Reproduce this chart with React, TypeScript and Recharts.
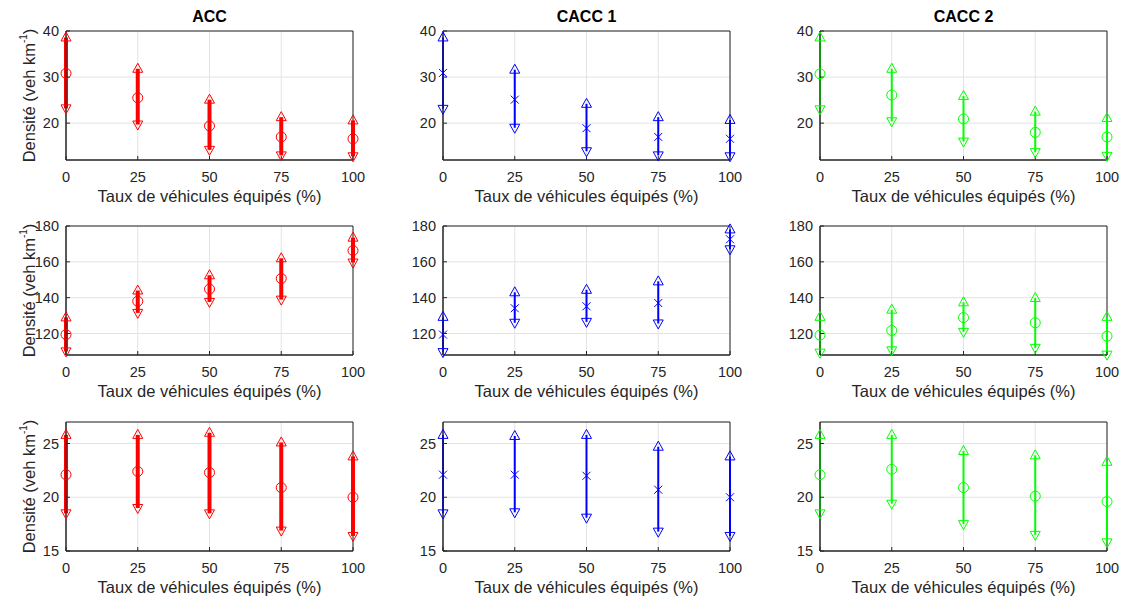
import React from 'react'
import {
  ScatterChart,
  Scatter,
  XAxis,
  YAxis,
  CartesianGrid,
  ErrorBar,
  Label,
  ReferenceArea
} from 'recharts'

// Taux de véhicules équipés (%)
const taux = [0, 25, 50, 75, 100]
const titres = ['ACC', 'CACC 1', 'CACC 2']

// ligne 1
const r1AccMax = [38.6, 31.8, 25.1, 21.3, 20.6]
const r1AccMoy = [30.8, 25.5, 19.4, 17.0, 16.6]
const r1AccMin = [23.2, 19.7, 14.2, 13.0, 12.8]
const r1Cacc1Max = [38.6, 31.6, 24.2, 21.3, 20.7]
const r1Cacc1Moy = [30.9, 25.1, 18.9, 17.0, 16.6]
const r1Cacc1Min = [23.1, 19.0, 13.9, 13.0, 12.8]
const r1Cacc2Max = [38.6, 31.8, 25.9, 22.5, 21.1]
const r1Cacc2Moy = [30.7, 26.1, 20.9, 18.0, 17.0]
const r1Cacc2Min = [23.0, 20.4, 16.0, 13.7, 12.9]

// ligne 2
const r2AccMax = [129.0, 144.0, 152.5, 162.0, 173.5]
const r2AccMoy = [119.4, 138.0, 144.8, 150.7, 166.3]
const r2AccMin = [110.0, 131.5, 137.6, 138.9, 159.6]
const r2Cacc1Max = [129.3, 143.0, 144.4, 149.1, 178.1]
const r2Cacc1Moy = [119.4, 134.1, 135.2, 137.0, 172.6]
const r2Cacc1Min = [109.6, 126.0, 126.5, 125.6, 167.0]
const r2Cacc2Max = [129.3, 133.3, 137.4, 139.8, 129.3]
const r2Cacc2Moy = [119.1, 121.7, 128.9, 126.0, 118.5]
const r2Cacc2Min = [109.3, 110.6, 120.9, 112.0, 108.2]

// ligne 3
const r3AccMax = [25.8, 25.8, 26.0, 25.1, 23.8]
const r3AccMoy = [22.1, 22.4, 22.3, 20.9, 20.0]
const r3AccMin = [18.5, 19.0, 18.5, 16.9, 16.4]
const r3Cacc1Max = [25.8, 25.7, 25.8, 24.7, 23.8]
const r3Cacc1Moy = [22.1, 22.1, 22.0, 20.7, 20.0]
const r3Cacc1Min = [18.5, 18.6, 18.1, 16.8, 16.4]
const r3Cacc2Max = [25.8, 25.8, 24.3, 23.9, 23.3]
const r3Cacc2Moy = [22.1, 22.6, 20.9, 20.1, 19.6]
const r3Cacc2Min = [18.5, 19.4, 17.5, 16.5, 15.8]

const yDomains = [[12, 40], [108, 180], [15, 27]]
const yTicks = [[20, 30, 40], [120, 140, 160, 180], [15, 20, 25]]

const series = [
  [[r1AccMax, r1AccMoy, r1AccMin], [r1Cacc1Max, r1Cacc1Moy, r1Cacc1Min], [r1Cacc2Max, r1Cacc2Moy, r1Cacc2Min]],
  [[r2AccMax, r2AccMoy, r2AccMin], [r2Cacc1Max, r2Cacc1Moy, r2Cacc1Min], [r2Cacc2Max, r2Cacc2Moy, r2Cacc2Min]],
  [[r3AccMax, r3AccMoy, r3AccMin], [r3Cacc1Max, r3Cacc1Moy, r3Cacc1Min], [r3Cacc2Max, r3Cacc2Moy, r3Cacc2Min]]
]

const colors = ['#ff0000', '#0000ff', '#00ff00']
const lineWidths = [4, 2, 2]
const plotLefts = [66, 443, 820]
const plotTops = [31, 226, 422]
const plotW = 287
const plotH = 129
const axisW = 60
const marginTop = 30
const marginRight = 20
const xAxisH = 45

const font = '"Liberation Sans", Arial, Helvetica, sans-serif'
const axisColor = '#262626'

const upTri = (color: string) => (p: any) => (
  <path
    d={`M${p.cx},${p.cy - 5.5}L${p.cx + 5},${p.cy + 3.5}L${p.cx - 5},${p.cy + 3.5}Z`}
    fill='none'
    stroke={color}
    strokeWidth={1}
  />
)

const downTri = (color: string) => (p: any) => (
  <path
    d={`M${p.cx},${p.cy + 5.5}L${p.cx + 5},${p.cy - 3.5}L${p.cx - 5},${p.cy - 3.5}Z`}
    fill='none'
    stroke={color}
    strokeWidth={1}
  />
)

const circle = (color: string) => (p: any) => (
  <circle cx={p.cx} cy={p.cy} r={5} fill='none' stroke={color} strokeWidth={1} />
)

const cross = (color: string) => (p: any) => (
  <path
    d={`M${p.cx - 4},${p.cy - 4}L${p.cx + 4},${p.cy + 4}M${p.cx - 4},${p.cy + 4}L${p.cx + 4},${p.cy - 4}`}
    stroke={color}
    strokeWidth={1}
  />
)

const YLabel = (props: any) => {
  const vb = props.viewBox
  const x = vb.x + 23
  const y = vb.y + vb.height / 2
  return (
    <text
      x={x}
      y={y}
      transform={`rotate(-90, ${x}, ${y})`}
      textAnchor='middle'
      dominantBaseline='central'
      fill={axisColor}
      fontSize={16.5}
      fontFamily={font}
    >
      <tspan>Densité (veh km</tspan>
      <tspan baselineShift='super' fontSize={10}>-1</tspan>
      <tspan>)</tspan>
    </text>
  )
}

const XLabel = (props: any) => {
  const vb = props.viewBox
  return (
    <text
      x={vb.x + vb.width / 2}
      y={vb.y + 42}
      textAnchor='middle'
      fill={axisColor}
      fontSize={16.5}
      fontFamily={font}
    >
      Taux de véhicules équipés (%)
    </text>
  )
}

const Title = (props: any) => {
  const vb = props.viewBox
  return (
    <text
      x={vb.x + vb.width / 2}
      y={vb.y - 9}
      textAnchor='middle'
      fill='#000'
      fontSize={16}
      fontWeight='bold'
      fontFamily={font}
    >
      {props.value}
    </text>
  )
}

function Panel ({ row, col }: { row: number, col: number }) {
  const [hi, mean, lo] = series[row][col]
  const color = colors[col]
  const centre = taux.map((x, i) => ({ x, y: mean[i], err: [mean[i] - lo[i], hi[i] - mean[i]] }))
  const haut = taux.map((x, i) => ({ x, y: hi[i] }))
  const bas = taux.map((x, i) => ({ x, y: lo[i] }))
  const tickStyle = { fill: axisColor, fontSize: 14.5, fontFamily: font }

  return (
    <div
      style={{
        position: 'absolute',
        left: plotLefts[col] - axisW,
        top: plotTops[row] - marginTop
      }}
    >
      <ScatterChart
        width={axisW + plotW + marginRight}
        height={marginTop + plotH + xAxisH + 5}
        margin={{ top: marginTop, right: marginRight, bottom: 5, left: 0 }}
      >
        <CartesianGrid stroke='#e3e3e3' />
        <ReferenceArea
          x1={0}
          x2={100}
          y1={yDomains[row][0]}
          y2={yDomains[row][1]}
          fill='none'
          fillOpacity={0}
          stroke={axisColor}
          strokeWidth={1}
          label={row === 0 ? <Title value={titres[col]} /> : undefined}
        />
        <XAxis
          dataKey='x'
          type='number'
          domain={[0, 100]}
          ticks={taux}
          height={xAxisH}
          stroke={axisColor}
          tickSize={-4}
          tickMargin={16}
          tick={tickStyle}
        >
          <Label content={XLabel} />
        </XAxis>
        <YAxis
          dataKey='y'
          type='number'
          domain={yDomains[row]}
          ticks={yTicks[row]}
          width={axisW}
          stroke={axisColor}
          tickSize={-4}
          tickMargin={11}
          tick={tickStyle}
        >
          {col === 0 && <Label content={YLabel} />}
        </YAxis>
        <Scatter data={centre} shape={col === 1 ? cross(color) : circle(color)} isAnimationActive={false}>
          <ErrorBar
            dataKey='err'
            direction='y'
            width={0}
            stroke={color}
            strokeWidth={lineWidths[col]}
            isAnimationActive={false}
          />
        </Scatter>
        <Scatter data={haut} shape={upTri(color)} isAnimationActive={false} />
        <Scatter data={bas} shape={downTri(color)} isAnimationActive={false} />
      </ScatterChart>
    </div>
  )
}

export default function App () {
  return (
    <div
      style={{
        position: 'absolute',
        left: 0,
        top: 0,
        width: 1126,
        height: 603,
        background: '#fff',
        overflow: 'hidden'
      }}
    >
      {[0, 1, 2].map(row =>
        [0, 1, 2].map(col => <Panel key={`${row}-${col}`} row={row} col={col} />)
      )}
    </div>
  )
}
